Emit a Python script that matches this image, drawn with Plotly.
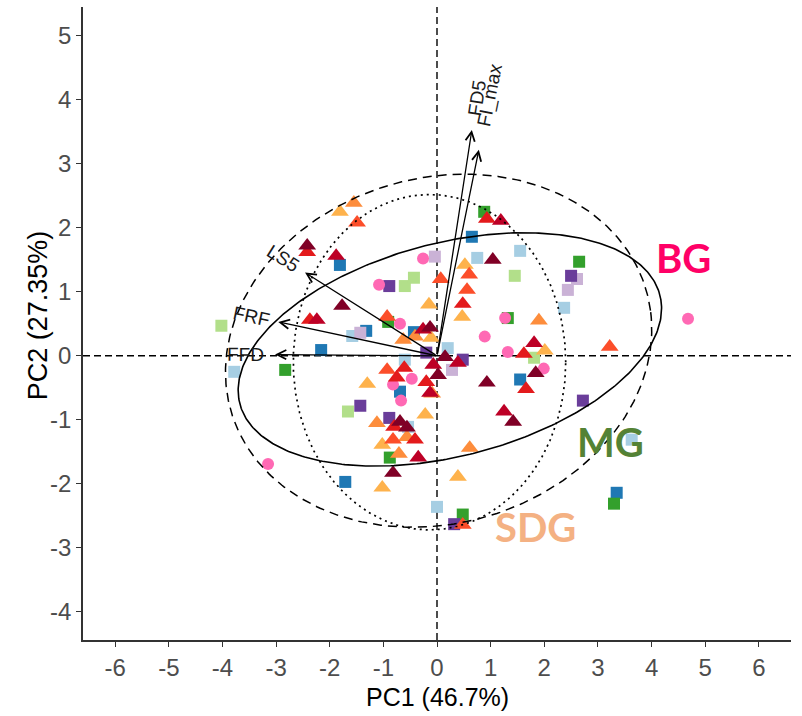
import numpy as np
import plotly.graph_objects as go

# ---------------- data ----------------
light_blue_sq_x = [-1.58, -3.78, 1.55, 0.75, 2.37, 0.20, 3.63, 0.00, -0.60, -0.54]
light_blue_sq_y = [0.31, -0.25, 1.64, 1.53, 0.75, 0.12, -1.31, -2.36, -0.06, -1.11]

dark_blue_sq_x = [-1.81, -1.32, -0.43, -2.16, 0.65, 1.55, 3.35, -1.71, -0.69]
dark_blue_sq_y = [1.42, 0.39, 0.37, 0.09, 1.86, -0.37, -2.14, -1.97, -0.56]

light_green_sq_x = [-0.60, -0.43, -4.02, 1.45, 1.81, -1.66]
light_green_sq_y = [1.09, 1.22, 0.47, 1.25, -0.03, -0.87]

dark_green_sq_x = [-0.91, -2.83, 0.88, 2.65, 1.32, 3.30, 0.48, -0.88]
dark_green_sq_y = [0.53, -0.22, 2.25, 1.47, 0.59, -2.31, -2.48, -1.59]

light_purple_sq_x = [-0.04, -1.43, 2.61, 2.44, 0.28]
light_purple_sq_y = [1.55, 0.36, 1.20, 1.03, -0.22]

dark_purple_sq_x = [-0.89, -0.20, 2.50, 0.48, 2.72, 0.32, -1.43, -0.89]
dark_purple_sq_y = [1.09, 0.05, 1.25, -0.06, -0.70, -2.63, -0.78, -0.97]

pink_circle_x = [-0.26, -1.08, -0.69, 1.27, 0.89, 1.32, 1.99, 4.68, -3.15, -0.82, -0.47, -0.67]
pink_circle_y = [1.52, 1.11, 0.50, 0.59, 0.30, 0.06, -0.20, 0.58, -1.69, -0.45, -0.36, -0.70]

light_orange_tri_x = [-1.81, -0.15, -0.11, 0.52, 0.47, 2.01, 0.39, -1.30, -1.02, -1.02, -0.22]
light_orange_tri_y = [2.25, 0.80, 0.28, 1.42, 0.61, 0.08, -1.89, -0.44, -1.39, -2.06, -0.92]

orange_tri_x = [-1.55, 1.90, 0.61, -1.12, -0.71, -0.56, -0.09, -0.63, -0.41]
orange_tri_y = [2.39, 0.55, -1.44, -1.05, -1.53, -1.27, -0.59, 0.25, 0.30]

red_orange_tri_x = [-1.49, 0.07, -0.93, 0.60, 0.56, 3.22, 0.48, -0.93, -0.82]
red_orange_tri_y = [2.08, 1.20, 0.61, 1.27, 1.03, 0.14, -2.64, -0.22, -1.31]

red_tri_x = [-2.42, -2.37, 0.93, 0.48, 1.62, 1.66, -0.75, -0.61, -0.20, -0.41, -0.80]
red_tri_y = [1.62, 0.56, 2.14, 0.81, 0.03, -0.52, -0.34, -0.19, -0.41, -1.31, -1.11]

crimson_tri_x = [-1.88, -2.24, -0.26, 1.19, 1.81, 1.25, -0.13, -0.35, -0.07, 0.39]
crimson_tri_y = [1.56, 0.56, 0.41, 2.11, 0.20, -0.87, -0.58, -1.59, -0.14, -0.11]

maroon_tri_x = [-2.42, -1.77, -0.13, 1.04, 1.84, 0.93, 1.42, 0.15, 0.02, -0.69, -0.82, -0.56]
maroon_tri_y = [1.72, 0.78, 0.44, 1.50, -0.27, -0.42, -1.03, -0.02, -0.30, -1.03, -1.83, -1.12]

# variable loadings (arrow tips)
var_names = ["FFD", "FRF", "LS5", "FD5", "FI_max"]
load_x = [-3.02, -2.96, -2.46, 0.65, 0.78]
load_y = [0.02, 0.53, 1.30, 3.53, 3.22]

# group labels
group_labels = ["BG", "MG", "SDG"]

# axis
x_ticks = [-6, -5, -4, -3, -2, -1, 0, 1, 2, 3, 4, 5, 6]
y_ticks = [-4, -3, -2, -1, 0, 1, 2, 3, 4, 5]
x_title = "PC1 (46.7%)"
y_title = "PC2 (27.35%)"

# ---------------- styling ----------------
X_RANGE = [-6.6, 6.6]
Y_RANGE = [-4.44, 5.45]
W, H = 802, 716
ML, MR, MT, MB = 83, 11, 7, 76
PX_X = (W - ML - MR) / (X_RANGE[1] - X_RANGE[0])
PX_Y = (H - MT - MB) / (Y_RANGE[1] - Y_RANGE[0])

FONT = "Liberation Sans, Arial, sans-serif"

fig = go.Figure()

square_groups = [
    (light_blue_sq_x, light_blue_sq_y, "#a6cee3"),
    (dark_blue_sq_x, dark_blue_sq_y, "#1f78b4"),
    (light_green_sq_x, light_green_sq_y, "#b2df8a"),
    (dark_green_sq_x, dark_green_sq_y, "#33a02c"),
    (light_purple_sq_x, light_purple_sq_y, "#cab2d6"),
    (dark_purple_sq_x, dark_purple_sq_y, "#6a3d9a"),
]
for xs, ys, col in square_groups:
    fig.add_trace(go.Scatter(x=xs, y=ys, mode="markers",
                             marker=dict(symbol="square", size=12, color=col, line=dict(width=0)),
                             hoverinfo="skip"))

fig.add_trace(go.Scatter(x=pink_circle_x, y=pink_circle_y, mode="markers",
                         marker=dict(symbol="circle", size=12, color="#ff69b4", line=dict(width=0)),
                         hoverinfo="skip"))

tri_groups = [
    (light_orange_tri_x, light_orange_tri_y, "#feb24c"),
    (orange_tri_x, orange_tri_y, "#fd8d3c"),
    (red_orange_tri_x, red_orange_tri_y, "#fc4e2a"),
    (red_tri_x, red_tri_y, "#e31a1c"),
    (crimson_tri_x, crimson_tri_y, "#bd0026"),
    (maroon_tri_x, maroon_tri_y, "#800026"),
]
for xs, ys, col in tri_groups:
    fig.add_trace(go.Scatter(x=xs, y=ys, mode="markers",
                             marker=dict(symbol="triangle-up", size=15.5, color=col, line=dict(width=0)),
                             hoverinfo="skip"))

# ellipses (center x, center y, semi-axis a, semi-axis b, angle deg, dash)
ellipses = [
    (0.24, 0.10, 4.01, 1.68, 11.2, "solid", 1.6),
    (0.03, 0.08, 4.00, 2.72, 9.0, "9px,6px", 1.5),
    (-0.14, -0.10, 2.54, 2.62, 0.0, "2px,4px", 1.7),
]
t = np.linspace(0, 2 * np.pi, 400)
for cx, cy, a, b, ang, dash, lw in ellipses:
    th = np.radians(ang)
    ex = cx + a * np.cos(t) * np.cos(th) - b * np.sin(t) * np.sin(th)
    ey = cy + a * np.cos(t) * np.sin(th) + b * np.sin(t) * np.cos(th)
    fig.add_trace(go.Scatter(x=ex, y=ey, mode="lines",
                             line=dict(color="black", width=lw, dash=dash),
                             hoverinfo="skip"))

# zero lines
fig.add_shape(type="line", xref="paper", x0=0, x1=1, yref="y", y0=0, y1=0,
              line=dict(color="black", width=1.4, dash="7px,4px"), layer="below")
fig.add_shape(type="line", xref="x", x0=0, x1=0, yref="paper", y0=0, y1=1,
              line=dict(color="black", width=1.4, dash="7px,4px"), layer="below")

# arrows + labels
label_offset_px = [30, 27, 26, 32, 56]
for name, lx, ly, d in zip(var_names, load_x, load_y, label_offset_px):
    fig.add_annotation(x=lx, y=ly, ax=0, ay=0, xref="x", yref="y", axref="x", ayref="y",
                       text="", showarrow=True, arrowhead=5, arrowsize=1.4,
                       arrowwidth=1.3, arrowcolor="black", standoff=0)
    dx, dy = lx * PX_X, ly * PX_Y
    ln = np.hypot(dx, dy)
    ux, uy = dx / ln, dy / ln
    rx, ry = (ux, uy) if ux >= 0 else (-ux, -uy)
    ang = -np.degrees(np.arctan2(ry, rx))
    fig.add_annotation(x=lx, y=ly, xref="x", yref="y", text=name, showarrow=False,
                       xshift=ux * d, yshift=uy * d, textangle=ang,
                       xanchor="center", yanchor="middle",
                       font=dict(family=FONT, size=19, color="#1a1a1a"))

# group labels
group_pos = [(4.6, 1.53), (3.24, -1.34), (1.84, -2.67)]
group_colors = ["#ff0066", "#548235", "#f4b183"]
for lab, (gx, gy), gc in zip(group_labels, group_pos, group_colors):
    fig.add_annotation(x=gx, y=gy, xref="x", yref="y", text="<b>" + lab + "</b>",
                       showarrow=False, xanchor="center", yanchor="middle",
                       font=dict(family="Lato, Open Sans, sans-serif", size=40, color=gc))

# axis titles
fig.add_annotation(x=0.5, y=-0.09, xref="paper", yref="paper",
                   text=x_title, showarrow=False, xanchor="center", yanchor="middle",
                   font=dict(family=FONT, size=25, color="black"))
fig.add_annotation(x=-0.0636, y=0.513, xref="paper", yref="paper",
                   text=y_title, showarrow=False, textangle=-90, xanchor="center", yanchor="middle",
                   font=dict(family=FONT, size=27, color="black"))

axis_common = dict(showgrid=False, zeroline=False, showline=True, linecolor="#333333",
                   linewidth=1.6, ticks="outside", ticklen=5, tickwidth=1.2, tickcolor="#333333",
                   tickfont=dict(family=FONT, size=24, color="#4d4d4d"))
fig.update_xaxes(range=X_RANGE, tickvals=x_ticks, ticktext=[str(v) for v in x_ticks], **axis_common)
fig.update_yaxes(range=Y_RANGE, tickvals=y_ticks, ticktext=[str(v) for v in y_ticks], **axis_common)

fig.update_layout(width=W, height=H, margin=dict(l=ML, r=MR, t=MT, b=MB),
                  plot_bgcolor="white", paper_bgcolor="white", showlegend=False)

fig.write_html("out.html", config={"displayModeBar": False})
